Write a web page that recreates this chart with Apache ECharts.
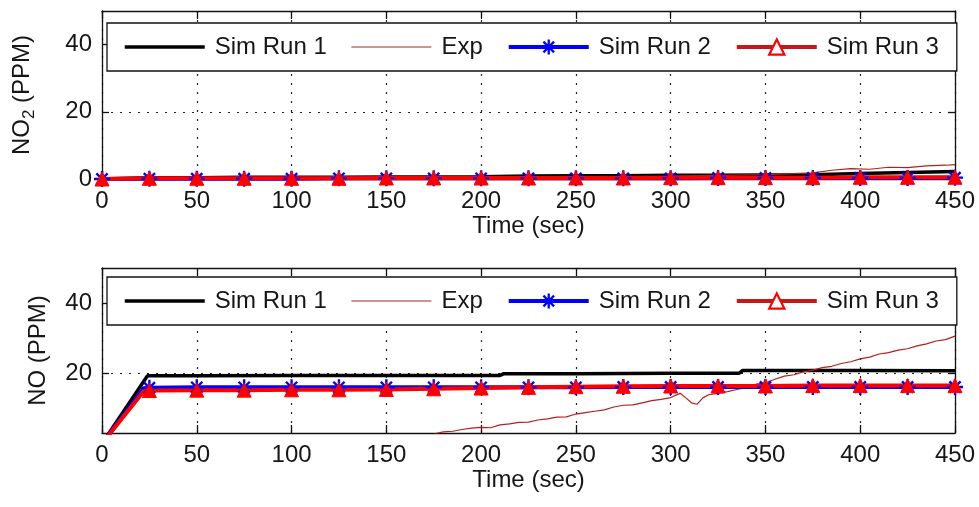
<!DOCTYPE html>
<html><head><meta charset="utf-8">
<script src="https://cdn.jsdelivr.net/npm/echarts@6/dist/echarts.min.js"></script>
<style>html,body{margin:0;padding:0;background:#fff}#c{width:979px;height:507px}</style>
</head><body><div id="c"></div>
<script>
// ---- data ----
const xTickValues = [0,50,100,150,200,250,300,350,400,450];
const yTickValues = [0,20,40];
const yTickValuesNO = [20,40];

// Top panel: NO2 (PPM)
const no2SimTime = [0,25,50,75,100,125,150,175,200,225,250,275,300,325,350,375,400,425,450];
const no2Sim1 = [0.0,0.4,0.4,0.5,0.5,0.5,0.6,0.6,0.7,0.9,1.0,1.0,1.1,1.1,1.2,1.3,1.6,1.9,2.2];
const no2Sim2 = [0.0,0.1,0.1,0.1,0.1,0.2,0.2,0.2,0.2,0.2,0.2,0.2,0.2,0.3,0.3,0.3,0.3,0.3,0.4];
const no2Sim3 = [0.0,0.2,0.2,0.2,0.2,0.2,0.3,0.3,0.3,0.3,0.3,0.3,0.4,0.4,0.4,0.4,0.5,0.5,0.5];
const no2ExpTime = [0,25,50,75,100,125,150,175,200,225,250,275,300,325,350,375,385,395,405,415,425,435,445,450];
const no2Exp = [0.0,0.1,0.2,0.2,0.3,0.3,0.4,0.5,0.5,0.6,0.7,0.8,0.9,1.1,1.3,1.8,2.6,3.1,2.9,3.5,3.4,3.9,4.1,4.3];

// Bottom panel: NO (PPM)
const noSim1Time = [0,24,50,100,150,200,210,212,250,300,336,338,350,400,450];
const noSim1 = [0.0,19.3,19.3,19.4,19.4,19.4,19.4,19.9,19.9,20.0,20.0,20.8,20.8,20.8,20.7];
const noSimTime = [0,22,25,50,75,100,125,150,175,200,225,250,275,300,325,350,375,400,425,450];
const noSim2 = [0.0,15.7,15.9,16.0,16.0,16.0,16.0,16.0,16.0,16.0,16.0,16.0,16.1,16.1,16.1,16.1,16.1,16.1,16.1,16.1];
const noSim3 = [0.0,14.9,15.1,15.2,15.2,15.3,15.3,15.4,15.6,15.8,16.0,16.2,16.3,16.4,16.4,16.4,16.5,16.5,16.5,16.5];
const noExpTime = [175,180,185,190,195,200,205,210,215,220,225,230,235,240,245,250,255,260,265,270,275,280,285,290,295,300,305,308,311,314,317,320,325,330,335,340,345,350,355,360,365,370,375,380,385,390,395,400,405,410,415,420,425,430,435,440,445,450];
const noExp = [2.7,3.3,3.5,4.0,4.4,4.6,4.5,5.3,5.6,6.0,6.1,6.7,7.0,7.5,7.6,8.4,8.8,9.2,9.6,10.4,10.9,11.0,11.6,12.2,12.6,13.1,14.3,13.0,11.6,11.2,13.0,13.9,14.3,14.8,15.4,16.0,16.9,17.3,18.3,19.2,19.6,20.4,20.9,21.6,22.0,22.8,23.3,24.1,24.6,25.5,25.9,26.6,27.0,27.8,28.4,29.2,29.6,30.6];

const seriesNames = ['Sim Run 1','Exp','Sim Run 2','Sim Run 3'];

// ---- styles ----
const FONT = '"Liberation Sans", Arial, sans-serif';
const TXT = '#161616';
const ASTERISK = 'path://M-1.5,-10L1.5,-10L1.5,10L-1.5,10Z M-10,-1.5L10,-1.5L10,1.5L-10,1.5Z M-5.94,-8.06L8.06,5.94L5.94,8.06L-8.06,-5.94Z M5.94,-8.06L8.06,-5.94L-5.94,8.06L-8.06,5.94Z';

function pairs(t, v){ return t.map((x,i)=>[x, v[i]]); }
function markedPairs(t, v){ return t.map((x,i)=> x % 25 === 0 ? [x, v[i]] : {value:[x, v[i]], symbol:'none'}); }

const dotted = {show:true, lineStyle:{color:'#222', type:[2,7], width:1.2}};
function xAxes(grid){
  return [
    {gridIndex:grid, type:'value', min:0, max:450, interval:50, position:'bottom',
     axisLine:{show:true, onZero:false, lineStyle:{color:'#111', width:1.3}},
     axisTick:{show:true, inside:true, length:8, lineStyle:{color:'#111', width:1.3}},
     axisLabel:{fontSize:24, fontFamily:FONT, color:TXT, margin:10},
     splitLine:dotted,
     name:'Time (sec)', nameLocation:'middle', nameGap:33,
     nameTextStyle:{fontSize:24, fontFamily:FONT, color:TXT}},
    {gridIndex:grid, type:'value', min:0, max:450, interval:50, position:'top',
     axisLine:{show:true, onZero:false, lineStyle:{color:'#111', width:1.3}},
     axisTick:{show:true, inside:true, length:8, lineStyle:{color:'#111', width:1.3}},
     axisLabel:{show:false}, splitLine:{show:false}}
  ];
}
function yAxes(grid, min, ticks, name, gap, rich){
  return [
    {gridIndex:grid, type:'value', min:min, max:50, position:'left',
     axisLine:{show:true, onZero:false, lineStyle:{color:'#111', width:1.3}},
     axisTick:{show:true, inside:true, length:7, customValues:ticks, lineStyle:{color:'#111', width:1.3}},
     axisLabel:{fontSize:24, fontFamily:FONT, color:TXT, margin:10, customValues:ticks},
     splitLine:dotted,
     name:name, nameLocation:'middle', nameGap:gap,
     nameTextStyle:Object.assign({fontSize:24, fontFamily:FONT, color:TXT}, rich ? {rich:rich} : {})},
    {gridIndex:grid, type:'value', min:min, max:50, position:'right',
     axisLine:{show:true, onZero:false, lineStyle:{color:'#111', width:1.3}},
     axisTick:{show:true, inside:true, length:7, customValues:ticks, lineStyle:{color:'#111', width:1.3}},
     axisLabel:{show:false, customValues:ticks}, splitLine:{show:false}}
  ];
}
function legendAt(top){
  return {
    top:top, left:107, orient:'horizontal', selectedMode:false,
    itemWidth:80, itemHeight:19, itemGap:24, padding:[12,18,12,16],
    borderColor:'#111', borderWidth:1.3, backgroundColor:'#fff', z:20,
    textStyle:{fontSize:24, fontFamily:FONT, color:TXT, padding:[0,0,0,5], lineHeight:24},
    data:[
      {name:seriesNames[0], itemStyle:{opacity:0}, lineStyle:{color:'#000', width:3.5}},
      {name:seriesNames[1], itemStyle:{opacity:0}, lineStyle:{color:'#9c2a22', width:1.2}},
      {name:seriesNames[2], lineStyle:{color:'#0000ff', width:4}},
      {name:seriesNames[3], itemStyle:{color:'#fff', borderColor:'#ff0000', borderWidth:2.2}, lineStyle:{color:'#c01a1a', width:4}}
    ]
  };
}
function panelSeries(ax, s1, ex, s2, s3){
  return [
    {name:seriesNames[0], type:'line', xAxisIndex:ax, yAxisIndex:ax, data:s1, symbol:'none',
     lineStyle:{color:'#000', width:3.5}, itemStyle:{color:'#000'}},
    {name:seriesNames[1], type:'line', xAxisIndex:ax, yAxisIndex:ax, data:ex, symbol:'none',
     lineStyle:{color:'#b3201c', width:1.2}, itemStyle:{color:'#b3201c'}},
    {name:seriesNames[2], type:'line', xAxisIndex:ax, yAxisIndex:ax, data:s2, symbol:ASTERISK, symbolSize:16,
     symbolKeepAspect:true, lineStyle:{color:'#0000ff', width:4}, itemStyle:{color:'#0000ff'}},
    {name:seriesNames[3], type:'line', xAxisIndex:ax, yAxisIndex:ax, data:s3, symbol:'triangle', symbolSize:14,
     lineStyle:{color:'#ff0000', width:4}, itemStyle:{color:'#ff0000', borderColor:'#ff0000', borderWidth:1}}
  ];
}

const chart = echarts.init(document.getElementById('c'), null, {renderer:'canvas'});
chart.setOption({
  animation:false,
  backgroundColor:'#fff',
  grid:[
    {left:102, top:11, width:853, height:168},
    {left:102, top:268, width:853, height:165}
  ],
  legend:[legendAt(23), legendAt(277)],
  xAxis:[...xAxes(0), ...xAxes(1)],
  yAxis:[
    ...yAxes(0, 0, yTickValues, '{a|NO}{b|2}{a| (PPM)}', 64,
      {a:{fontSize:24, fontFamily:FONT, color:TXT}, b:{fontSize:17, fontFamily:FONT, color:TXT, padding:[14,0,0,0]}}),
    ...yAxes(1, 3, yTickValuesNO, 'NO (PPM)', 52, null)
  ],
  series:[
    ...panelSeries(0, pairs(no2SimTime, no2Sim1), pairs(no2ExpTime, no2Exp),
                   markedPairs(no2SimTime, no2Sim2), markedPairs(no2SimTime, no2Sim3)),
    ...panelSeries(2, pairs(noSim1Time, noSim1), pairs(noExpTime, noExp),
                   markedPairs(noSimTime, noSim2), markedPairs(noSimTime, noSim3))
  ]
});
</script>
</body></html>
